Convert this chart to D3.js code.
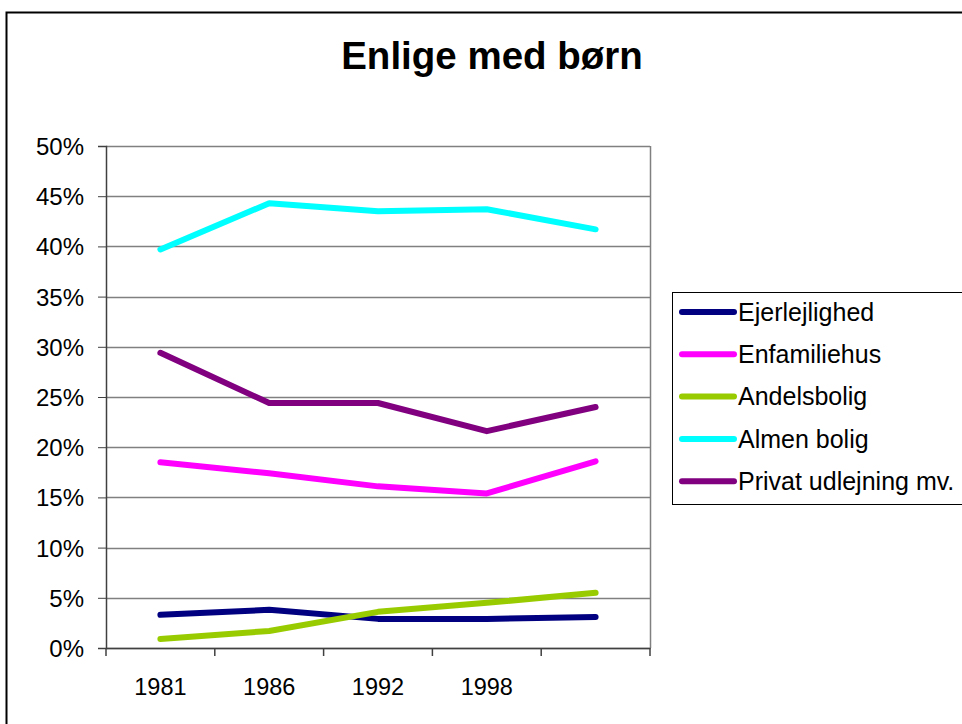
<!DOCTYPE html>
<html>
<head>
<meta charset="utf-8">
<script src="https://cdn.jsdelivr.net/npm/d3@7"></script>
<style>
  body { margin: 0; background: #fff; }
  svg { display: block; font-family: "Liberation Sans", Arial, sans-serif; }
</style>
</head>
<body>
<div id="wrapper"></div>
<script>
var years = ['1981', '1986', '1992', '1998', '']
var seriesNames = ['Ejerlejlighed', 'Enfamiliehus', 'Andelsbolig', 'Almen bolig', 'Privat udlejning mv.']
var seriesColors = ['#000080', '#ff00ff', '#99cc00', '#00ffff', '#800080']
var ejerlejlighed = [0.033, 0.038, 0.029, 0.029, 0.031]
var enfamiliehus = [0.185, 0.174, 0.161, 0.154, 0.186]
var andelsbolig = [0.009, 0.017, 0.036, 0.045, 0.055]
var almenBolig = [0.397, 0.443, 0.435, 0.437, 0.417]
var privatUdlejning = [0.294, 0.244, 0.244, 0.216, 0.240]
var yTicks = [0, 0.05, 0.1, 0.15, 0.2, 0.25, 0.3, 0.35, 0.4, 0.45, 0.5]

var seriesValues = [ejerlejlighed, enfamiliehus, andelsbolig, almenBolig, privatUdlejning]

let dimensions = {
    width: 962,
    height: 724,
    margin: { top: 146, right: 312, bottom: 76, left: 106 }
}
let innerW = dimensions.width - dimensions.margin.left - dimensions.margin.right
let innerH = dimensions.height - dimensions.margin.top - dimensions.margin.bottom

let svg = d3.select("#wrapper")
    .append("svg")
    .attr("width", dimensions.width)
    .attr("height", dimensions.height)

// outer chart border
svg.append("rect")
    .attr("x", 6.5).attr("y", 12.5)
    .attr("width", 970).attr("height", 730)
    .attr("fill", "white")
    .attr("stroke", "black")
    .attr("stroke-width", 2)

svg.append("text")
    .attr("x", 492).attr("y", 69)
    .attr("text-anchor", "middle")
    .attr("font-size", "38.5px")
    .attr("font-weight", "bold")
    .text("Enlige med børn")

let g = svg.append("g")
    .attr("transform", `translate(${dimensions.margin.left},${dimensions.margin.top})`)

let x = d3.scaleBand()
    .domain(d3.range(years.length))
    .range([0, innerW])

let y = d3.scaleLinear()
    .domain([0, 0.5])
    .range([innerH, 0])

// gridlines
g.append("g")
    .selectAll("line")
    .data(yTicks)
    .enter()
    .append("line")
    .attr("x1", 0).attr("x2", innerW)
    .attr("y1", d => Math.round(y(d)) + 0.5)
    .attr("y2", d => Math.round(y(d)) + 0.5)
    .attr("stroke", "#808080")
    .attr("stroke-width", 1.5)

// right border of plot area
g.append("line")
    .attr("x1", innerW + 0.5).attr("x2", innerW + 0.5)
    .attr("y1", 0).attr("y2", innerH)
    .attr("stroke", "#808080")
    .attr("stroke-width", 1.5)

// y axis
let yAxis = g.append("g")
    .call(d3.axisLeft(y).tickValues(yTicks).tickFormat(d3.format(".0%")).tickSizeOuter(0).tickSize(8))
yAxis.select(".domain").attr("stroke", "#404040").attr("stroke-width", 1.5)
yAxis.selectAll(".tick line").attr("stroke", "#404040")
yAxis.selectAll("text")
    .attr("font-size", "24px")
    .attr("font-family", "Liberation Sans, Arial, sans-serif")
    .attr("fill", "black")
    .attr("x", -22)
    .attr("dy", "0.35em")

// x axis
let xAxis = g.append("g")
    .attr("transform", `translate(0,${innerH})`)
    .call(d3.axisBottom(x).tickFormat(i => years[i]).tickSize(0).tickSizeOuter(0))
xAxis.select(".domain").attr("stroke", "#404040").attr("stroke-width", 1.5)
xAxis.selectAll("text")
    .attr("font-size", "23.5px")
    .attr("font-family", "Liberation Sans, Arial, sans-serif")
    .attr("fill", "black")
    .attr("y", 47)
    .attr("dy", 0)

// category boundary ticks
g.append("g")
    .selectAll("line")
    .data(d3.range(years.length + 1))
    .enter()
    .append("line")
    .attr("x1", d => d * x.bandwidth())
    .attr("x2", d => d * x.bandwidth())
    .attr("y1", innerH).attr("y2", innerH + 8)
    .attr("stroke", "#404040")
    .attr("stroke-width", 1.5)

let line = d3.line()
    .x((d, i) => x(i) + x.bandwidth() / 2)
    .y(d => y(d))

g.append("g")
    .selectAll("path")
    .data(seriesValues)
    .enter()
    .append("path")
    .attr("d", d => line(d))
    .attr("fill", "none")
    .attr("stroke", (d, i) => seriesColors[i])
    .attr("stroke-width", 6)
    .attr("stroke-linecap", "round")
    .attr("stroke-linejoin", "round")

// legend
let legend = svg.append("g").attr("transform", "translate(672,292)")
legend.append("rect")
    .attr("x", 0.5).attr("y", 0.5)
    .attr("width", 300).attr("height", 212)
    .attr("fill", "white")
    .attr("stroke", "black")
    .attr("stroke-width", 1)

let items = legend.selectAll("g.item")
    .data(seriesNames)
    .enter()
    .append("g")
    .attr("class", "item")
    .attr("transform", (d, i) => `translate(0,${20 + i * 42.3})`)

items.append("line")
    .attr("x1", 10).attr("x2", 62)
    .attr("y1", 0).attr("y2", 0)
    .attr("stroke", (d, i) => seriesColors[i])
    .attr("stroke-width", 6)
    .attr("stroke-linecap", "round")

items.append("text")
    .attr("x", 66)
    .attr("y", 0)
    .attr("dy", "0.35em")
    .attr("font-size", "25px")
    .text(d => d)
</script>
</body>
</html>
